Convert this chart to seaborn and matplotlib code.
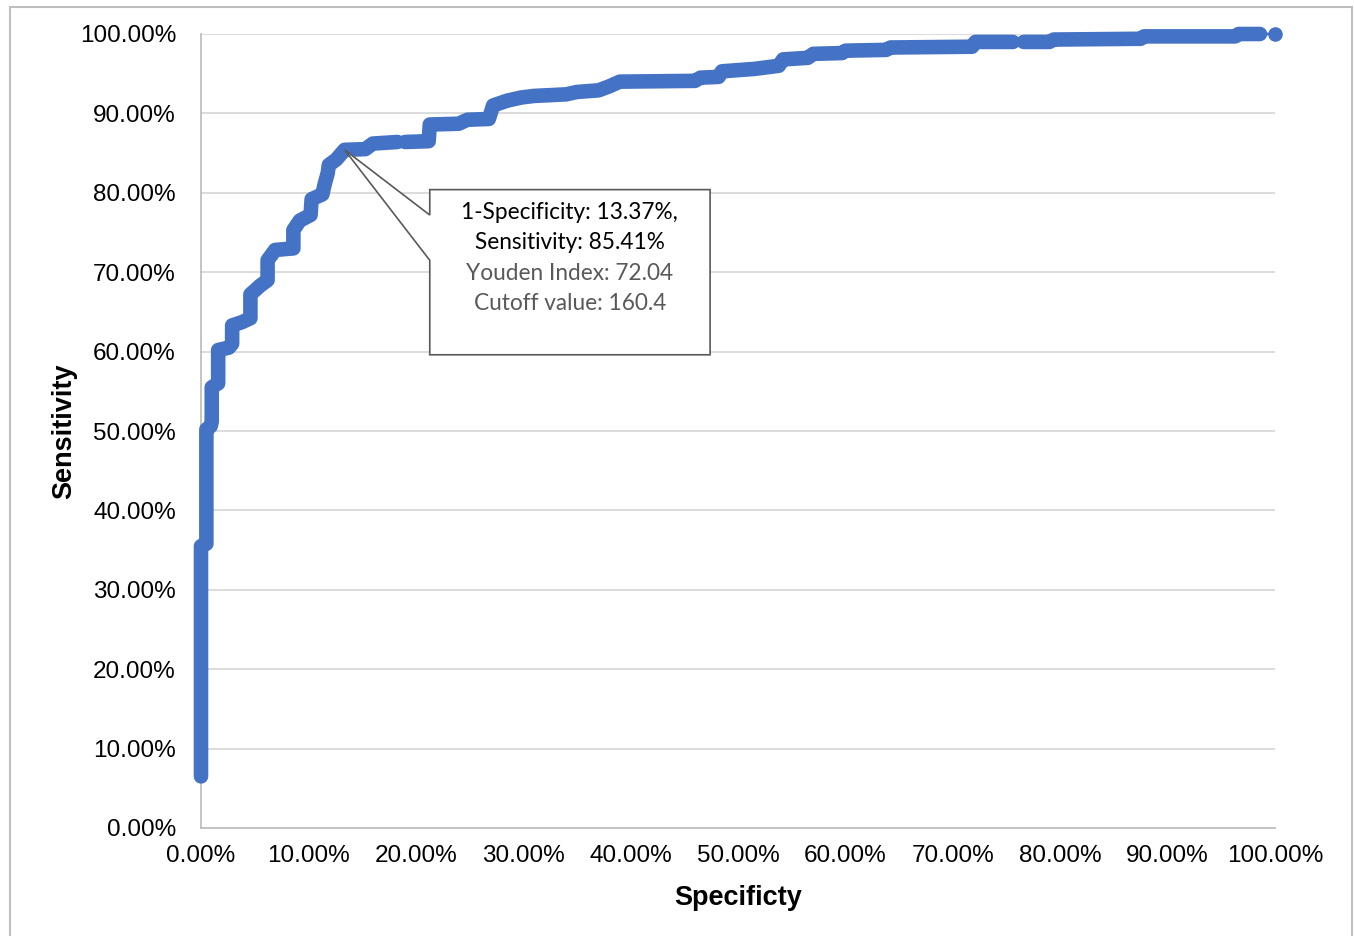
import numpy as np
import pandas as pd
import matplotlib.pyplot as plt
import matplotlib.patches as mpatches
import seaborn as sns

# ROC curve vertices (percent)
fpr = [0, 0, 0.5, 0.5, 0.9, 1.0, 1.0, 1.6, 1.6, 2.6, 2.9, 2.9, 3.8, 4.6, 4.6,
       5.5, 6.2, 6.2, 6.9, 8.6, 8.6, 9.2, 10.2, 10.3, 11.3, 11.5, 11.8, 11.9,
       12.6, 13.37, 15.3, 16.0, 18.3, 19.0, 21.2, 21.3, 24.0, 24.8, 26.8, 27.2,
       28.5, 29.8, 31.0, 34.0, 35.0, 37.0, 38.0, 39.0, 46.0, 46.5, 48.2, 48.5,
       51.5, 53.8, 54.2, 56.5, 57.0, 59.7, 60.0, 63.8, 64.2, 71.8, 72.1, 75.6,
       76.6, 79.0, 79.4, 87.5, 87.8, 96.3, 96.6, 98.6, 100.0]
tpr = [6.5, 35.5, 35.8, 50.2, 50.6, 51.2, 55.5, 56.0, 60.2, 60.5, 61.0, 63.3,
       63.7, 64.2, 67.2, 68.3, 69.0, 71.5, 72.8, 73.0, 75.3, 76.5, 77.2, 79.2,
       79.8, 81.0, 82.5, 83.5, 84.2, 85.41, 85.5, 86.2, 86.4, 86.4, 86.5, 88.6,
       88.7, 89.2, 89.3, 91.0, 91.6, 92.0, 92.2, 92.4, 92.7, 92.9, 93.4, 94.0,
       94.1, 94.5, 94.6, 95.3, 95.6, 96.0, 96.8, 97.0, 97.5, 97.6, 97.9, 98.0,
       98.3, 98.4, 99.0, 99.0, 99.0, 99.0, 99.3, 99.4, 99.7, 99.7, 100.0, 100.0,
       100.0]
# places where the dense markers stop and only the thin line continues
gaps_at = [18.3, 75.6, 98.6]

ticks = [0, 10, 20, 30, 40, 50, 60, 70, 80, 90, 100]
best_fpr, best_tpr = 13.37, 85.41
note_lines = ["1-Specificity: 13.37%,", "Sensitivity: 85.41%",
              "Youden Index: 72.04", "Cutoff value: 160.4"]

df = pd.DataFrame({"fpr": fpr, "tpr": tpr})
df["seg"] = [sum(x > g for g in gaps_at) for x in df["fpr"]]

sns.set_style("white")
plt.rcParams["font.family"] = ["Liberation Sans", "DejaVu Sans"]
plt.rcParams["text.color"] = "black"
plt.rcParams["axes.labelcolor"] = "black"
plt.rcParams["xtick.color"] = "black"
plt.rcParams["ytick.color"] = "black"

blue = "#4472C4"
fig = plt.figure(figsize=(13.54, 9.36), dpi=100)
ax = fig.add_axes([201 / 1354, 1 - 828 / 936, 1074 / 1354, 794 / 936])

# thin connecting line
ax.plot(df["fpr"], df["tpr"], color=blue, lw=2, zorder=3, clip_on=False)
# thick "dense marker" band
sns.lineplot(data=df, x="fpr", y="tpr", units="seg", estimator=None, sort=False,
             color=blue, lw=10.5, solid_capstyle="round", solid_joinstyle="round",
             ax=ax, zorder=4, clip_on=False)
ax.scatter([fpr[-1]], [tpr[-1]], s=110, color=blue, zorder=5, linewidths=0,
           clip_on=False)

ax.set_xlim(0, 100)
ax.set_ylim(0, 100)
ax.set_xticks(ticks)
ax.set_yticks(ticks)
ax.set_xticklabels([f"{t:.2f}%" for t in ticks], fontsize=17.5)
ax.set_yticklabels([f"{t:.2f}%" for t in ticks], fontsize=17.5)
ax.tick_params(axis="x", length=0, pad=12)
ax.tick_params(axis="y", length=0, pad=18)
ax.yaxis.grid(True, color="#D9D9D9", lw=1.3)
ax.xaxis.grid(False)
for s in ["top", "right"]:
    ax.spines[s].set_visible(False)
for s in ["left", "bottom"]:
    ax.spines[s].set_color("#BFBFBF")
    ax.spines[s].set_linewidth(1.3)
ax.set_xlabel("Specificty", fontsize=19.5, fontweight="bold", labelpad=13)
ax.set_ylabel("Sensitivity", fontsize=19.5, fontweight="bold", labelpad=2)

# callout box
bx0, bx1, by0, by1 = 21.3, 47.4, 59.6, 80.4
poly = [(bx0, by1), (bx1, by1), (bx1, by0), (bx0, by0), (bx0, 71.5),
        (best_fpr, best_tpr), (bx0, 77.2)]
ax.add_patch(mpatches.Polygon(poly, closed=True, facecolor="white",
                              edgecolor="#595959", lw=1.2, zorder=6))
cx = (bx0 + bx1) / 2
for i, (line, yy) in enumerate(zip(note_lines, [77.5, 73.7, 69.8, 66.0])):
    ax.text(cx, yy, line, ha="center", va="center", fontsize=16.3,
            family=["Lato", "DejaVu Sans"], color="black" if i < 2 else "#595959",
            zorder=7)

# outer frame
fig.patches.append(mpatches.Rectangle((10 / 1354, -0.02), 1342 / 1354, 1.02 - 7 / 936,
                                      transform=fig.transFigure, fill=False,
                                      edgecolor="#BFBFBF", lw=1.5))

fig.savefig("out.png", dpi=100)
